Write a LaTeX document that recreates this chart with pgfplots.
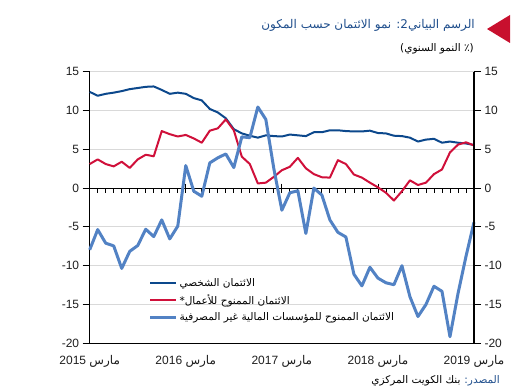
\documentclass[border=0pt]{standalone}
\usepackage{fontspec}
\setmainfont{Liberation Sans}
\newfontfamily\arabicfont[Script=Arabic]{DejaVu Sans}
\usepackage{pgfplots}
\pgfplotsset{compat=1.18}
\TeXXeTstate=1
\definecolor{dblue}{RGB}{12,72,140}
\definecolor{cred}{RGB}{208,16,58}
\definecolor{lblue}{RGB}{82,130,196}
\definecolor{gridc}{RGB}{217,217,217}
\definecolor{ttl}{RGB}{31,78,140}
\definecolor{tri}{RGB}{200,16,46}
\definecolor{lab}{RGB}{30,30,30}

\pgfplotstableread{
x pers bus nbfi
0 12.4 3.1 -7.95
1 11.9 3.7 -5.35
2 12.15 3.1 -7.1
3 12.3 2.8 -7.45
4 12.5 3.4 -10.35
5 12.75 2.6 -8.15
6 12.9 3.7 -7.4
7 13.05 4.3 -5.3
8 13.1 4.1 -6.25
9 12.65 7.35 -4.1
10 12.15 6.95 -6.55
11 12.3 6.65 -4.9
12 12.15 6.85 2.9
13 11.6 6.4 -0.4
14 11.3 5.85 -1.05
15 10.2 7.4 3.25
16 9.75 7.7 3.9
17 9.0 8.85 4.4
18 7.6 7.45 2.65
19 7.05 4.05 6.6
20 6.75 3.1 6.5
21 6.5 0.6 10.45
22 6.8 0.7 8.85
23 6.7 1.45 2.5
24 6.65 2.3 -2.85
25 6.9 2.75 -0.6
26 6.8 3.9 -0.35
27 6.7 2.55 -5.85
28 7.2 1.8 0.0
29 7.2 1.4 -0.9
30 7.45 1.35 -4.1
31 7.45 3.6 -5.7
32 7.35 3.1 -6.3
33 7.3 1.75 -11.1
34 7.3 1.35 -12.6
35 7.4 0.7 -10.2
36 7.1 0.1 -11.6
37 7.05 -0.6 -12.2
38 6.75 -1.6 -12.45
39 6.7 -0.4 -10.0
40 6.5 1.0 -14.0
41 6.0 0.4 -16.55
42 6.25 0.7 -15.0
43 6.35 1.8 -12.65
44 5.85 2.4 -13.3
45 6.0 4.6 -19.15
46 5.85 5.6 -13.6
47 5.75 5.9 -8.8
48 5.55 5.5 -4.4
}\data

\begin{document}
\begin{tikzpicture}[x=1pt,y=1pt]
\path[use as bounding box] (0pt,0pt) rectangle (525pt,391pt);
\begin{axis}[
  at={(89.7pt,47.7pt)}, anchor=south west,
  width=384.3pt, height=271.6pt, scale only axis,
  xmin=0, xmax=48, ymin=-20, ymax=15,
  clip=false,
  axis x line*=bottom, axis y line*=left,
  axis line style={black, line width=1.1pt, -},
  xtick={0,12,24,36,48},
  xticklabels={{2015 {\arabicfont\beginR مارس\endR}},{2016 {\arabicfont\beginR مارس\endR}},{2017 {\arabicfont\beginR مارس\endR}},{2018 {\arabicfont\beginR مارس\endR}},{2019 {\arabicfont\beginR مارس\endR}}},
  x tick style={draw=none},
  ytick={-20,-15,-10,-5,0,5,10,15},
  yticklabels={{-20},{-15},{-10},{-5},0,5,10,15},
  y tick style={black, line width=1pt},
  tick align=outside, major tick length=7pt,
  tick label style={font=\fontsize{12}{14}\selectfont, text=lab},
  xticklabel style={yshift=-1.5pt},
  ymajorgrids, grid style={gridc, line width=1pt},
  legend style={at={(0.15,0.25)}, anchor=north west, draw=none, fill=none,
    font=\arabicfont\fontsize{10.5}{12}\selectfont, row sep=2.5pt,
    inner sep=1pt},
  legend cell align=left,
  legend image code/.code={\draw[#1] (0pt,0pt) -- (26pt,0pt);},
]
\draw[black, line width=1pt] (axis cs:0,0) -- (axis cs:48,0);
\pgfplotsinvokeforeach{1,...,47}{\draw[black, line width=0.8pt] (axis cs:#1,0) -- ([yshift=-4.5pt]axis cs:#1,0);}
\pgfplotsinvokeforeach{12,24,36}{\draw[black, line width=0.8pt] ([yshift=4.5pt]axis cs:#1,0) -- ([yshift=-4.5pt]axis cs:#1,0);}
\addplot[dblue, line width=2pt, line join=round] table[x=x, y=pers] {\data};
\addlegendentry{\beginR الائتمان الشخصي\endR}
\addplot[cred, line width=2pt, line join=round] table[x=x, y=bus] {\data};
\addlegendentry{\beginR الائتمان الممنوح للأعمال*\endR}
\addplot[lblue, line width=3pt, line join=round] table[x=x, y=nbfi] {\data};
\addlegendentry{\beginR الائتمان الممنوح للمؤسسات المالية غير المصرفية\endR}
\end{axis}
\begin{axis}[
  at={(89.7pt,47.7pt)}, anchor=south west,
  width=384.3pt, height=271.6pt, scale only axis,
  xmin=0, xmax=48, ymin=-20, ymax=15,
  axis x line=none, axis y line*=right,
  axis line style={black, line width=1.1pt, -},
  ytick={-20,-15,-10,-5,0,5,10,15},
  yticklabels={{-20},{-15},{-10},{-5},0,5,10,15},
  y tick style={black, line width=1pt},
  tick align=outside, major tick length=7pt,
  tick label style={font=\fontsize{12}{14}\selectfont, text=lab},
]
\end{axis}
\fill[tri] (487pt,362pt) -- (510pt,376pt) -- (510pt,348pt) -- cycle;
\node[anchor=east, text=ttl, font=\arabicfont\fontsize{12}{14}\selectfont, inner sep=0pt] at (475pt,366pt) {\beginR الرسم البياني2: نمو الائتمان حسب المكون\endR};
\node[anchor=east, text=black, font=\arabicfont\fontsize{10.5}{12}\selectfont, inner sep=0pt] at (474pt,342pt) {\beginR(٪ النمو السنوي)\endR};
\node[anchor=east, text=ttl, font=\arabicfont\fontsize{10.5}{12}\selectfont, inner sep=0pt] (src) at (500pt,10pt) {\beginR المصدر:\endR};
\node[anchor=east, text=black, font=\arabicfont\fontsize{10.5}{12}\selectfont, inner sep=0pt] at ([xshift=-3.5pt]src.east -| src.west) {\beginR بنك الكويت المركزي\endR};
\end{tikzpicture}
\end{document}
